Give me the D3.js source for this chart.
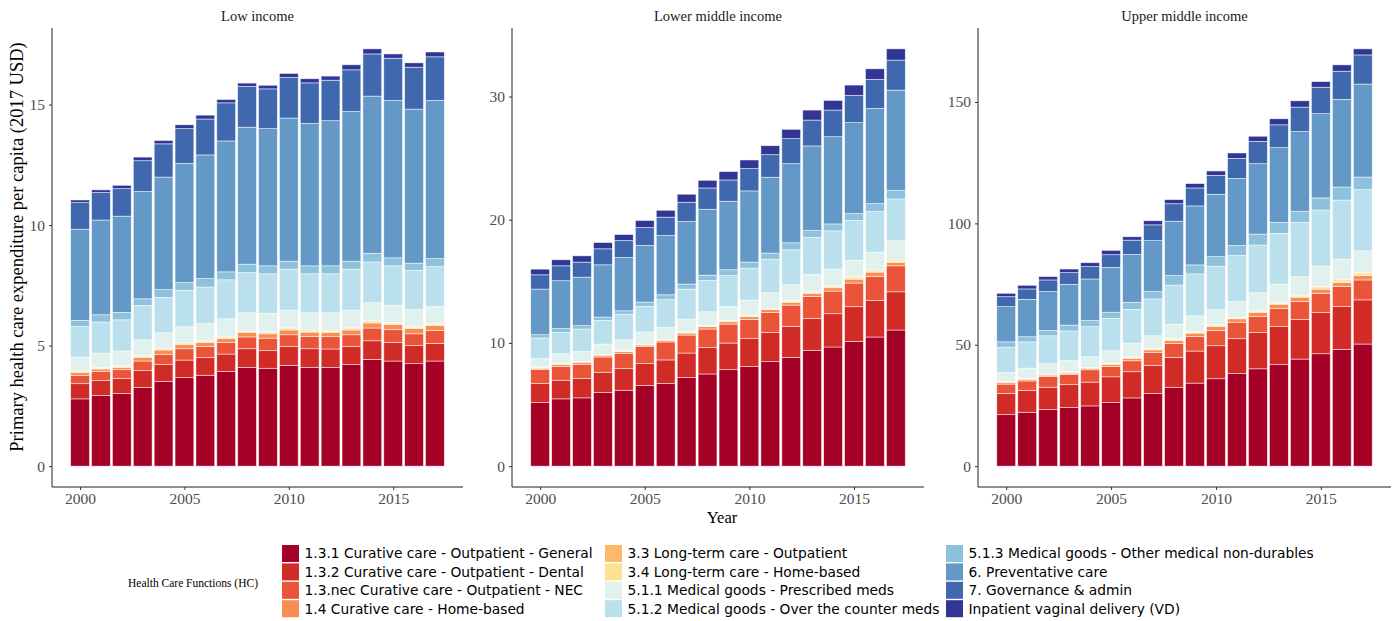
<!DOCTYPE html>
<html>
<head>
<meta charset="utf-8">
<script src="https://cdn.jsdelivr.net/npm/d3@7/dist/d3.min.js"></script>
<style>
  html, body { margin: 0; padding: 0; background: #ffffff; }
  svg { display: block; }
</style>
</head>
<body>
<svg id="chart" width="1400" height="621"></svg>
<script>
// Years on the x axis
const years = [2000, 2001, 2002, 2003, 2004, 2005, 2006, 2007, 2008,
               2009, 2010, 2011, 2012, 2013, 2014, 2015, 2016, 2017];

// Health care functions, stacked bottom to top
const functions = [
  "1.3.1 Curative care - Outpatient - General",
  "1.3.2 Curative care - Outpatient - Dental",
  "1.3.nec Curative care - Outpatient - NEC",
  "1.4 Curative care - Home-based",
  "3.3 Long-term care - Outpatient",
  "3.4 Long-term care - Home-based",
  "5.1.1 Medical goods - Prescribed meds",
  "5.1.2 Medical goods - Over the counter meds",
  "5.1.3 Medical goods - Other medical non-durables",
  "6. Preventative care",
  "7. Governance & admin",
  "Inpatient vaginal delivery (VD)"
];

const colours = ["#a50026", "#d02b27", "#ea5539", "#f98e52", "#fdb96a", "#fee193",
                 "#e1f1ee", "#b9e0ec", "#8ec1dc", "#6398c7", "#4068ae", "#313695"];

const panelTitles = ["Low income", "Lower middle income", "Upper middle income"];

// Per capita spending (2017 USD), one row per function, one value per year
const lowIncome = [
  [2.79, 2.93, 3.01, 3.27, 3.51, 3.67, 3.77, 3.92, 4.10, 4.06, 4.18, 4.10, 4.10, 4.21, 4.43, 4.36, 4.25, 4.36],
  [0.63, 0.62, 0.62, 0.69, 0.70, 0.73, 0.73, 0.73, 0.77, 0.73, 0.78, 0.77, 0.76, 0.75, 0.77, 0.77, 0.75, 0.73],
  [0.35, 0.37, 0.37, 0.40, 0.43, 0.47, 0.47, 0.48, 0.49, 0.52, 0.49, 0.51, 0.51, 0.49, 0.53, 0.53, 0.49, 0.54],
  [0.11, 0.11, 0.10, 0.15, 0.18, 0.17, 0.16, 0.17, 0.19, 0.18, 0.20, 0.18, 0.18, 0.20, 0.21, 0.22, 0.22, 0.21],
  [0.03, 0.03, 0.03, 0.03, 0.03, 0.03, 0.03, 0.04, 0.04, 0.04, 0.04, 0.04, 0.04, 0.04, 0.04, 0.04, 0.04, 0.04],
  [0.04, 0.04, 0.04, 0.05, 0.05, 0.05, 0.05, 0.05, 0.05, 0.05, 0.05, 0.05, 0.05, 0.05, 0.05, 0.05, 0.05, 0.05],
  [0.58, 0.59, 0.61, 0.65, 0.63, 0.66, 0.70, 0.72, 0.72, 0.76, 0.73, 0.71, 0.72, 0.73, 0.75, 0.70, 0.69, 0.70],
  [1.27, 1.29, 1.29, 1.43, 1.47, 1.51, 1.52, 1.62, 1.67, 1.64, 1.70, 1.62, 1.62, 1.70, 1.69, 1.64, 1.63, 1.65],
  [0.25, 0.30, 0.31, 0.27, 0.32, 0.33, 0.35, 0.33, 0.35, 0.33, 0.33, 0.33, 0.33, 0.33, 0.36, 0.33, 0.30, 0.33],
  [3.78, 3.93, 3.99, 4.45, 4.67, 4.94, 5.13, 5.43, 5.68, 5.69, 5.94, 5.91, 6.02, 6.21, 6.52, 6.53, 6.39, 6.56],
  [1.10, 1.14, 1.14, 1.28, 1.38, 1.44, 1.49, 1.58, 1.69, 1.65, 1.68, 1.68, 1.68, 1.73, 1.75, 1.75, 1.74, 1.81],
  [0.11, 0.11, 0.14, 0.15, 0.14, 0.16, 0.16, 0.14, 0.14, 0.15, 0.17, 0.17, 0.17, 0.21, 0.21, 0.18, 0.18, 0.20]
];

const lowerMiddleIncome = [
  [5.16, 5.46, 5.54, 5.97, 6.16, 6.54, 6.70, 7.19, 7.48, 7.83, 8.10, 8.48, 8.83, 9.40, 9.67, 10.13, 10.48, 11.05],
  [1.54, 1.51, 1.56, 1.65, 1.75, 1.78, 1.92, 1.99, 2.14, 2.16, 2.25, 2.38, 2.52, 2.59, 2.70, 2.81, 2.97, 3.10],
  [1.13, 1.13, 1.17, 1.24, 1.22, 1.38, 1.46, 1.46, 1.51, 1.54, 1.56, 1.62, 1.72, 1.79, 1.84, 1.92, 1.95, 2.11],
  [0.11, 0.14, 0.16, 0.14, 0.16, 0.13, 0.13, 0.16, 0.19, 0.19, 0.22, 0.22, 0.22, 0.24, 0.27, 0.32, 0.35, 0.27],
  [0.05, 0.04, 0.04, 0.04, 0.05, 0.04, 0.04, 0.05, 0.05, 0.05, 0.06, 0.06, 0.07, 0.08, 0.08, 0.08, 0.08, 0.09],
  [0.06, 0.04, 0.04, 0.04, 0.06, 0.04, 0.04, 0.06, 0.06, 0.06, 0.07, 0.07, 0.09, 0.10, 0.11, 0.11, 0.11, 0.13],
  [0.67, 0.81, 0.81, 0.83, 0.86, 0.98, 0.97, 1.03, 1.10, 1.14, 1.22, 1.24, 1.27, 1.36, 1.32, 1.35, 1.43, 1.54],
  [1.68, 1.73, 1.81, 1.92, 2.08, 2.08, 2.25, 2.43, 2.54, 2.51, 2.59, 2.73, 2.84, 3.00, 3.11, 3.22, 3.29, 3.40],
  [0.27, 0.30, 0.27, 0.27, 0.27, 0.35, 0.40, 0.41, 0.43, 0.46, 0.49, 0.49, 0.57, 0.56, 0.56, 0.56, 0.65, 0.68],
  [3.70, 3.89, 3.94, 4.24, 4.33, 4.59, 4.81, 5.07, 5.35, 5.56, 5.78, 6.16, 6.42, 6.87, 7.08, 7.38, 7.73, 8.15],
  [1.16, 1.21, 1.22, 1.30, 1.37, 1.46, 1.49, 1.57, 1.73, 1.73, 1.81, 1.83, 2.03, 2.10, 2.16, 2.21, 2.35, 2.44],
  [0.46, 0.49, 0.51, 0.51, 0.49, 0.57, 0.56, 0.65, 0.62, 0.68, 0.70, 0.73, 0.76, 0.81, 0.79, 0.84, 0.86, 0.91]
];

const upperMiddleIncome = [
  [21.2, 22.2, 23.3, 24.1, 24.8, 26.2, 28.1, 29.9, 32.5, 34.2, 36.0, 38.1, 40.1, 41.8, 44.1, 46.3, 48.1, 50.3],
  [8.7, 9.0, 9.2, 9.5, 9.8, 10.6, 10.8, 11.6, 12.3, 13.2, 13.6, 14.4, 15.0, 15.7, 16.3, 17.0, 17.6, 18.2],
  [3.9, 3.9, 4.5, 4.1, 5.1, 4.3, 4.5, 5.3, 5.7, 6.0, 6.3, 6.8, 6.5, 7.4, 7.4, 7.9, 8.3, 8.2],
  [0.7, 0.6, 0.5, 0.6, 0.6, 0.8, 1.0, 1.1, 1.3, 1.4, 1.6, 1.4, 1.7, 1.8, 1.8, 1.7, 1.6, 1.9],
  [0.2, 0.3, 0.2, 0.3, 0.2, 0.3, 0.3, 0.3, 0.4, 0.3, 0.3, 0.3, 0.4, 0.3, 0.4, 0.5, 0.6, 0.5],
  [0.2, 0.3, 0.2, 0.3, 0.2, 0.3, 0.4, 0.4, 0.4, 0.4, 0.4, 0.4, 0.4, 0.4, 0.4, 0.6, 0.8, 0.7],
  [3.7, 4.1, 4.3, 4.6, 4.4, 5.0, 5.6, 5.1, 5.9, 6.4, 6.2, 6.5, 7.3, 7.6, 7.7, 8.4, 8.3, 8.9],
  [10.4, 10.8, 11.5, 12.2, 12.4, 13.4, 13.9, 15.2, 16.1, 17.3, 18.0, 18.9, 19.7, 20.9, 22.3, 23.1, 24.3, 25.2],
  [2.2, 2.1, 2.2, 2.4, 2.5, 2.5, 2.9, 3.0, 3.9, 3.7, 3.9, 4.1, 4.5, 4.5, 4.6, 5.0, 5.4, 5.2],
  [14.5, 15.4, 16.0, 16.8, 17.1, 18.5, 19.7, 21.0, 22.4, 24.3, 25.7, 27.6, 29.0, 30.8, 32.8, 34.7, 36.1, 38.3],
  [4.1, 4.3, 4.8, 4.8, 5.1, 5.2, 5.9, 6.5, 7.2, 7.4, 7.8, 8.3, 9.2, 9.4, 10.1, 10.9, 11.6, 12.0],
  [1.4, 1.5, 1.4, 1.5, 1.6, 1.8, 1.4, 1.7, 1.7, 1.8, 1.8, 2.2, 2.1, 2.5, 2.6, 2.3, 2.6, 2.5]
];

// Axis tick values
const xTicks = [2000, 2005, 2010, 2015];
const yTicksLow = [0, 5, 10, 15];
const yTicksLowerMiddle = [0, 10, 20, 30];
const yTicksUpperMiddle = [0, 50, 100, 150];

const serif = "'Liberation Serif', 'Times New Roman', serif";
const sans = "'DejaVu Sans', sans-serif";

const svg = d3.select("#chart");

const panels = [
  { title: panelTitles[0], values: lowIncome, ticks: yTicksLow, x0: 52, x1: 463 },
  { title: panelTitles[1], values: lowerMiddleIncome, ticks: yTicksLowerMiddle, x0: 512, x1: 924 },
  { title: panelTitles[2], values: upperMiddleIncome, ticks: yTicksUpperMiddle, x0: 978, x1: 1391 }
];

const plotTop = 28, plotBottom = 487;
const barHalf = 0.45;

panels.forEach(p => {
  // one row per year, one column per function
  const rows = years.map((yr, i) => {
    const r = { year: yr };
    functions.forEach((f, j) => { r[f] = p.values[j][i]; });
    return r;
  });
  const series = d3.stack().keys(functions)(rows);
  const maxTotal = d3.max(series[series.length - 1], d => d[1]);

  // continuous scales expanded by 5% like ggplot
  const xMin = years[0] - barHalf, xMax = years[years.length - 1] + barHalf;
  const xPad = (xMax - xMin) * 0.05;
  const x = d3.scaleLinear().domain([xMin - xPad, xMax + xPad]).range([p.x0, p.x1]);
  const yPad = maxTotal * 0.05;
  const y = d3.scaleLinear().domain([-yPad, maxTotal + yPad]).range([plotBottom, plotTop]);

  const g = svg.append("g");

  g.selectAll("g.layer")
    .data(series)
    .join("g")
    .attr("class", "layer")
    .attr("fill", (d, i) => colours[i])
    .selectAll("rect")
    .data(d => d)
    .join("rect")
    .attr("x", d => x(d.data.year - barHalf))
    .attr("width", d => x(d.data.year + barHalf) - x(d.data.year - barHalf))
    .attr("y", d => y(d[1]))
    .attr("height", d => Math.max(0, y(d[0]) - y(d[1])))
    .attr("stroke", "#ffffff")
    .attr("stroke-width", 0.7)
    .attr("stroke-opacity", 0.7);

  // y axis
  const yAxis = g.append("g")
    .attr("transform", `translate(${p.x0},0)`)
    .call(d3.axisLeft(y).tickValues(p.ticks).tickSize(3).tickPadding(4));
  yAxis.select(".domain").attr("d", `M0,${plotTop}V${plotBottom}`).attr("stroke", "#222");
  yAxis.selectAll(".tick line").attr("stroke", "#333");
  yAxis.selectAll(".tick text")
    .attr("fill", "#4d4d4d").style("font-family", serif).style("font-size", "15.5px");

  // x axis
  const xAxis = g.append("g")
    .attr("transform", `translate(0,${plotBottom})`)
    .call(d3.axisBottom(x).tickValues(xTicks).tickFormat(d3.format("d")).tickSize(3).tickPadding(3));
  xAxis.select(".domain").attr("d", `M${p.x0},0H${p.x1}`).attr("stroke", "#222");
  xAxis.selectAll(".tick line").attr("stroke", "#333");
  xAxis.selectAll(".tick text")
    .attr("fill", "#4d4d4d").style("font-family", serif).style("font-size", "15.5px");

  // facet strip title
  g.append("text")
    .attr("x", (p.x0 + p.x1) / 2)
    .attr("y", 21)
    .attr("text-anchor", "middle")
    .style("font-family", serif)
    .style("font-size", "14.5px")
    .attr("fill", "#1a1a1a")
    .text(p.title);
});

// axis titles
svg.append("text")
  .attr("transform", "translate(23,247) rotate(-90)")
  .attr("text-anchor", "middle")
  .style("font-family", serif)
  .style("font-size", "18.5px")
  .attr("fill", "#000")
  .text("Primary health care expenditure per capita (2017 USD)");

svg.append("text")
  .attr("x", 722)
  .attr("y", 523)
  .attr("text-anchor", "middle")
  .style("font-family", serif)
  .style("font-size", "16.5px")
  .attr("fill", "#000")
  .text("Year");

// legend
const legend = svg.append("g");
legend.append("text")
  .attr("x", 128)
  .attr("y", 587)
  .style("font-family", serif)
  .style("font-size", "11.5px")
  .attr("fill", "#000")
  .text("Health Care Functions (HC)");

const colX = [282, 605, 946];
const rowY = [545, 563.4, 581.8, 600.2];
const key = 17;

functions.forEach((f, i) => {
  const col = Math.floor(i / 4), row = i % 4;
  legend.append("rect")
    .attr("x", colX[col])
    .attr("y", rowY[row])
    .attr("width", key)
    .attr("height", key)
    .attr("fill", colours[i]);
  legend.append("text")
    .attr("x", colX[col] + key + 5.5)
    .attr("y", rowY[row] + key / 2)
    .attr("dy", "0.36em")
    .style("font-family", sans)
    .style("font-size", "13.8px")
    .attr("fill", "#000")
    .text(f);
});
</script>
</body>
</html>
